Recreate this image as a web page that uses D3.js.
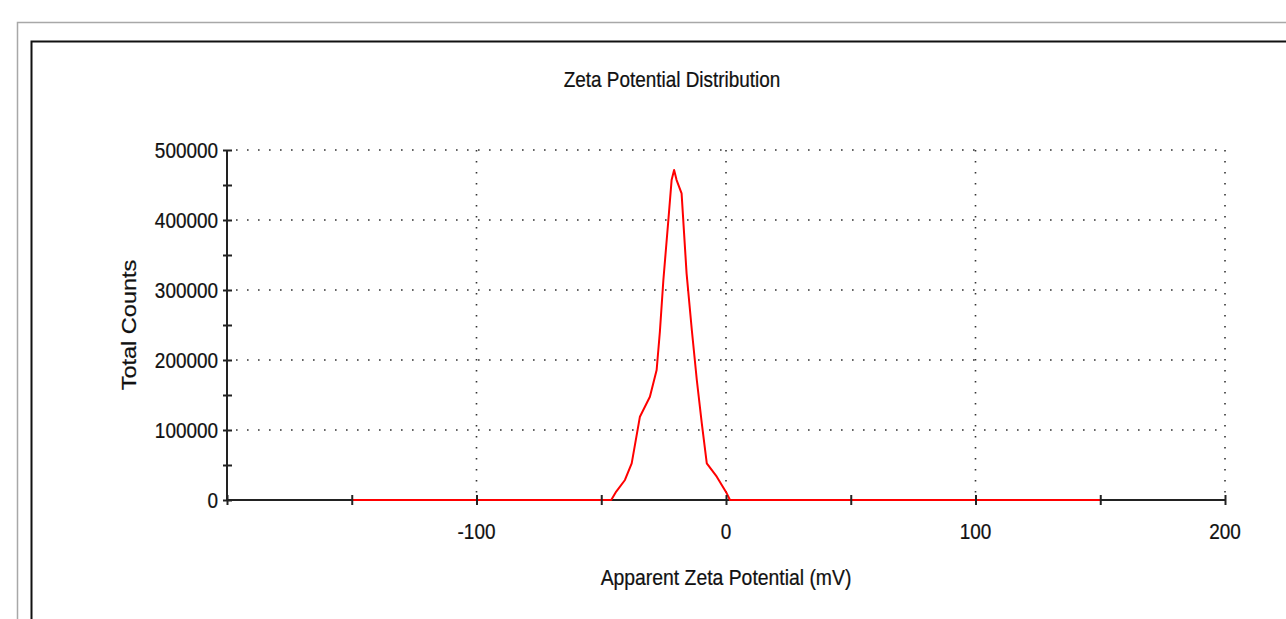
<!DOCTYPE html>
<html>
<head>
<meta charset="utf-8">
<script src="https://cdn.jsdelivr.net/npm/d3@7"></script>
<style>
  html, body { margin: 0; padding: 0; background: #fff; overflow: hidden; }
  text { font-family: "Liberation Sans", Arial, sans-serif; fill: #111; stroke: #111; stroke-width: 0.25px; }
</style>
</head>
<body>
<div class="chart-container"></div>
<script>
//! DATA
const zeta = [-150, -46, -44, -40.5, -37.8, -34.5, -30.5, -27.8, -26.5, -25.1, -23.1, -21.8, -20.8,
  -19.8, -17.8, -15.8, -13.7, -11.7, -9.7, -7.7, -3.7, 0.3, 1.6, 150]
const counts = [0, 0, 12000, 28600, 52400, 119000, 147600, 185700, 240400, 314300, 400000, 457000, 471400,
  457000, 438100, 323800, 242900, 171400, 109500, 52400, 33300, 9500, 0, 0]

const xLabelTicks = [-100, 0, 100, 200]
const xTicks = [-200, -150, -100, -50, 0, 50, 100, 150, 200]
const yLabelTicks = [0, 100000, 200000, 300000, 400000, 500000]
const yTicks = [0, 50000, 100000, 150000, 200000, 250000, 300000, 350000, 400000, 450000, 500000]
const xGrid = [-100, 0, 100, 200]
const yGrid = [100000, 200000, 300000, 400000, 500000]

//! CONSTS
const width = 1286
const height = 619
const sx = 0.88 // text looks squeezed sideways

const svg = d3.select('.chart-container')
  .append('svg')
  .attr('width', width)
  .attr('height', height)

// frames (run off the right and bottom edge)
svg.append('rect')
  .attr('x', 17.5).attr('y', 22.5).attr('width', 1400).attr('height', 800)
  .attr('fill', 'none').attr('stroke', '#a8a8a8').attr('stroke-width', 1.5)
svg.append('rect')
  .attr('x', 31.5).attr('y', 41.5).attr('width', 1400).attr('height', 800)
  .attr('fill', 'none').attr('stroke', '#111').attr('stroke-width', 2)

//! SCALES
const xScale = d3.scaleLinear().domain([-200, 200]).range([227, 1225])
const yScale = d3.scaleLinear().domain([0, 500000]).range([500, 150])

// grid
const grid = svg.append('g')
  .attr('stroke', '#333')
  .attr('stroke-width', 1.6)
  .attr('stroke-dasharray', '1.6,9.4')
grid.selectAll('.hg')
  .data(yGrid)
  .enter()
  .append('line')
  .attr('x1', xScale(-200) + 9).attr('x2', xScale(200))
  .attr('y1', d => yScale(d)).attr('y2', d => yScale(d))
grid.selectAll('.vg')
  .data(xGrid)
  .enter()
  .append('line')
  .attr('x1', d => xScale(d)).attr('x2', d => xScale(d))
  .attr('y1', yScale(500000)).attr('y2', yScale(0))

// axis lines
svg.append('line')
  .attr('x1', xScale(-200)).attr('x2', xScale(200))
  .attr('y1', yScale(0)).attr('y2', yScale(0))
  .attr('stroke', '#222').attr('stroke-width', 2)
svg.append('line')
  .attr('x1', xScale(-200)).attr('x2', xScale(-200))
  .attr('y1', yScale(0)).attr('y2', yScale(500000))
  .attr('stroke', '#222').attr('stroke-width', 2)

// trace
const line = d3.line()
  .x((d, i) => xScale(zeta[i]))
  .y(d => yScale(d))
svg.append('path')
  .datum(counts)
  .attr('d', line)
  .attr('fill', 'none')
  .attr('stroke', '#ff0000')
  .attr('stroke-width', 2)
  .attr('stroke-linejoin', 'round')

//! AXIS
const xAxis = d3.axisBottom(xScale).tickValues(xTicks).tickFormat('').tickSize(5)
const yAxis = d3.axisLeft(yScale).tickValues(yTicks).tickFormat('').tickSize(5)

svg.append('g')
  .attr('transform', `translate(0,${yScale(0)})`)
  .call(xAxis)
  .call(g => g.select('.domain').remove())
  .call(g => g.selectAll('.tick line').attr('y1', -5).attr('y2', 5)
    .attr('stroke', '#222').attr('stroke-width', 2))

svg.append('g')
  .attr('transform', `translate(${xScale(-200)},0)`)
  .call(yAxis)
  .call(g => g.select('.domain').remove())
  .call(g => g.selectAll('.tick line').attr('x1', -4).attr('x2', 5)
    .attr('stroke', '#222').attr('stroke-width', 2))

// tick labels
svg.selectAll('.xl')
  .data(xLabelTicks)
  .enter()
  .append('text')
  .attr('transform', d => `translate(${xScale(d)},539) scale(${sx},1)`)
  .attr('text-anchor', 'middle')
  .style('font-size', '21.5px')
  .text(d => d)

svg.selectAll('.yl')
  .data(yLabelTicks)
  .enter()
  .append('text')
  .attr('transform', d => `translate(218,${yScale(d)}) scale(${sx},1)`)
  .attr('text-anchor', 'end')
  .attr('dy', '0.36em')
  .style('font-size', '21.5px')
  .text(d => d)

//! TITLES
svg.append('text')
  .attr('transform', `translate(672,87) scale(${sx},1)`)
  .attr('text-anchor', 'middle')
  .style('font-size', '21.5px')
  .text('Zeta Potential Distribution')

svg.append('text')
  .attr('transform', `translate(726,585) scale(${sx},1)`)
  .attr('text-anchor', 'middle')
  .style('font-size', '22px')
  .text('Apparent Zeta Potential (mV)')

svg.append('text')
  .attr('transform', `translate(136,325) scale(${sx},1) rotate(-90)`)
  .attr('text-anchor', 'middle')
  .style('font-size', '23.5px')
  .text('Total Counts')
</script>
</body>
</html>
